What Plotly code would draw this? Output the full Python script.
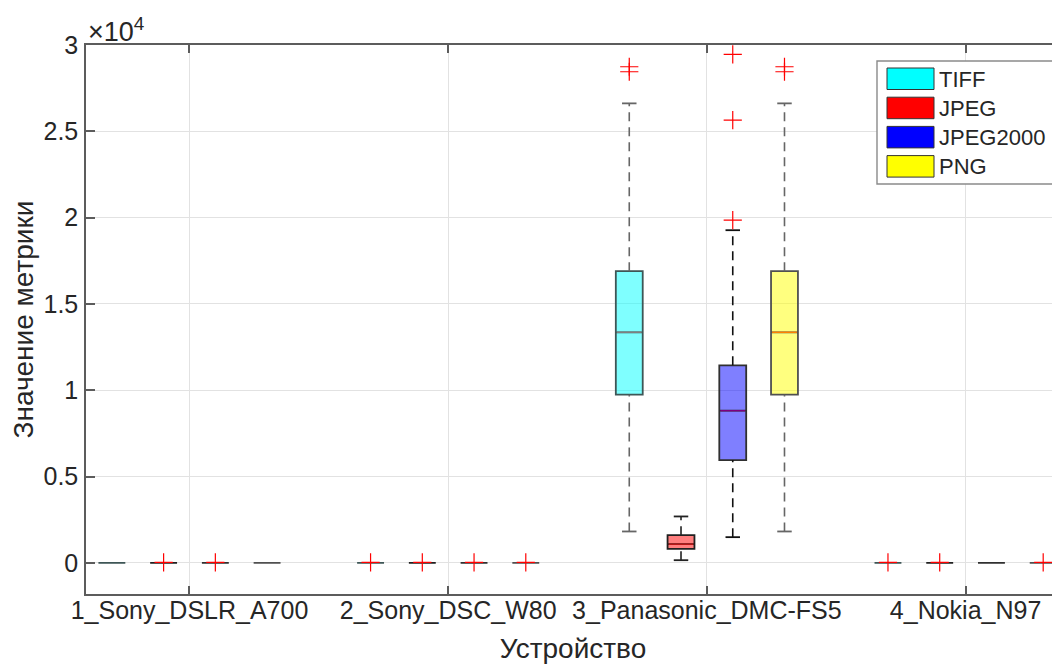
import plotly.graph_objects as go

# ---------------- data ----------------
devices = ["1_Sony_DSLR_A700", "2_Sony_DSC_W80", "3_Panasonic_DMC-FS5", "4_Nokia_N97"]
formats = ["TIFF", "JPEG", "JPEG2000", "PNG"]

# per format: one entry per device -> [lower whisker, q1, median, q3, upper whisker]
tiff_stats = [[0, 0, 0, 0, 0], [0, 0, 0, 0, 0], [1815, 9742, 13355, 16893, 26618], [0, 0, 0, 0, 0]]
jpeg_stats = [[0, 0, 0, 0, 0], [0, 0, 0, 0, 0], [151, 812, 1079, 1600, 2685], [0, 0, 0, 0, 0]]
jp2k_stats = [[0, 0, 0, 0, 0], [0, 0, 0, 0, 0], [1485, 5950, 8814, 11442, 19270], [0, 0, 0, 0, 0]]
png_stats = [[0, 0, 0, 0, 0], [0, 0, 0, 0, 0], [1815, 9742, 13355, 16893, 26618], [0, 0, 0, 0, 0]]

tiff_out = [[], [20], [28450, 28740], [20]]
jpeg_out = [[20], [20], [], [20]]
jp2k_out = [[20], [20], [19850, 25649, 29459], []]
png_out = [[], [20], [28450, 28740], [20]]

y_tickvals = [0, 5000, 10000, 15000, 20000, 25000, 30000]
y_ticktext = ["0", "0.5", "1", "1.5", "2", "2.5", "3"]

# ---------------- styling ----------------
FONT = "Liberation Sans, Arial, Helvetica, sans-serif"
TXT = "#262626"
OFF = 8                       # page body margin
W, H = 1060 - OFF, 664 - OFF
ML, MT, MB = 86 - OFF, 45 - OFF, 70
PW = W - ML
PH = H - MT - MB
TICK_FS, LAB_FS, LEG_FS = 25, 28, 22

fill_rgb = {"TIFF": (0, 255, 255), "JPEG": (255, 0, 0), "JPEG2000": (0, 0, 255), "PNG": (255, 255, 0)}
edge_col = {"TIFF": "#3e5656", "JPEG": "#202020", "JPEG2000": "#303030", "PNG": "#505050"}
whisk_col = {"TIFF": "#666666", "JPEG": "#222222", "JPEG2000": "#111111", "PNG": "#666666"}
offsets = [-0.3, -0.1, 0.1, 0.3]
BOXW = 0.104
CAPW = 0.056

stats_all = {"TIFF": tiff_stats, "JPEG": jpeg_stats, "JPEG2000": jp2k_stats, "PNG": png_stats}
out_all = {"TIFF": tiff_out, "JPEG": jpeg_out, "JPEG2000": jp2k_out, "PNG": png_out}


def blend(rgb, a=0.5, under=(255, 0, 0)):
    return "rgb(%d,%d,%d)" % tuple(round(a * c + (1 - a) * u) for c, u in zip(rgb, under))


fig = go.Figure()

for fi, fmt in enumerate(formats):
    r, g, b = fill_rgb[fmt]
    xs = [di + 1 + offsets[fi] for di in range(len(devices))]
    st = stats_all[fmt]
    # whiskers (dashed) and caps
    wx, wy, cx, cy = [], [], [], []
    for x, s in zip(xs, st):
        lw, q1, med, q3, uw = s
        if uw > q3:
            wx += [x, x, None]; wy += [q3, uw, None]
        if lw < q1:
            wx += [x, x, None]; wy += [lw, q1, None]
        if uw > q3 or lw < q1:
            cx += [x - CAPW / 2, x + CAPW / 2, None, x - CAPW / 2, x + CAPW / 2, None]
            cy += [uw, uw, None, lw, lw, None]
    fig.add_trace(go.Scatter(x=wx, y=wy, mode="lines", showlegend=False, hoverinfo="skip",
                             line=dict(color=whisk_col[fmt], width=1.6, dash="9px,6px")))
    fig.add_trace(go.Scatter(x=cx, y=cy, mode="lines", showlegend=False, hoverinfo="skip",
                             line=dict(color=whisk_col[fmt], width=1.8)))
    # boxes
    fig.add_trace(go.Box(
        x=xs, q1=[s[1] for s in st], median=[s[2] for s in st], q3=[s[3] for s in st],
        lowerfence=[s[1] for s in st], upperfence=[s[3] for s in st],
        width=BOXW, fillcolor="rgba(%d,%d,%d,0.5)" % (r, g, b),
        line=dict(color=edge_col[fmt], width=1.8), name=fmt, showlegend=False,
        hoverinfo="skip"))
    # median lines (red median seen through the translucent patch)
    mx, my = [], []
    for x, s in zip(xs, st):
        if s[3] > s[1]:
            mx += [x - BOXW / 2 + 0.004, x + BOXW / 2 - 0.004, None]
            my += [s[2], s[2], None]
    fig.add_trace(go.Scatter(x=mx, y=my, mode="lines", showlegend=False, hoverinfo="skip",
                             line=dict(color=blend((r, g, b)) if fmt != "JPEG" else "#d01818", width=1.4)))
    # outliers
    ox, oy = [], []
    for x, outs in zip(xs, out_all[fmt]):
        for v in outs:
            ox.append(x); oy.append(v)
    fig.add_trace(go.Scatter(x=ox, y=oy, mode="markers", showlegend=False, hoverinfo="skip",
                             marker=dict(symbol="cross-thin", size=13,
                                         line=dict(color="#ff0000", width=1.2))))


def px2paper(px, py):
    """screen pixel -> paper coords"""
    return (px - OFF - ML) / PW, 1 - (py - OFF - MT) / PH


# manual MATLAB-style legend
shapes = []
annotations = []
x0, y0 = px2paper(877, 61)
x1, y1 = px2paper(1054, 184)
shapes.append(dict(type="rect", xref="paper", yref="paper", x0=x0, y0=y1, x1=x1, y1=y0,
                   line=dict(color="#8a8a8a", width=1.4), fillcolor="white", layer="above"))
row_top = 68
for i, fmt in enumerate(formats):
    top = row_top + i * 29.2
    sx0, sy0 = px2paper(887, top)
    sx1, sy1 = px2paper(934, top + 21.5)
    shapes.append(dict(type="rect", xref="paper", yref="paper", x0=sx0, y0=sy1, x1=sx1, y1=sy0,
                       line=dict(color="#333333", width=1),
                       fillcolor="rgb(%d,%d,%d)" % fill_rgb[fmt], layer="above"))
    tx, ty = px2paper(937, top + 11)
    annotations.append(dict(xref="paper", yref="paper", x=tx, y=ty, text=fmt, showarrow=False,
                            xanchor="left", yanchor="middle",
                            font=dict(family=FONT, size=LEG_FS, color=TXT)))

ex, ey = px2paper(86, 30)
annotations.append(dict(xref="paper", yref="paper", x=ex, y=ey, text="×10<sup>4</sup>",
                        showarrow=False, xanchor="left", yanchor="middle",
                        font=dict(family=FONT, size=27, color=TXT)))

fig.update_layout(
    width=W, height=H,
    margin=dict(l=ML, r=0, t=MT, b=MB, autoexpand=False),
    paper_bgcolor="white", plot_bgcolor="white",
    font=dict(family=FONT, size=TICK_FS, color=TXT),
    showlegend=False,
    shapes=shapes, annotations=annotations,
    xaxis=dict(range=[0.6, 0.6 + PW / 258.7], tickvals=[1, 2, 3, 4], ticktext=devices,
               automargin=False,
               showgrid=True, gridcolor="#e2e2e2", gridwidth=1.2, zeroline=False,
               showline=True, linecolor="#5c5c5c", linewidth=1.5, mirror="ticks",
               ticks="inside", ticklen=8, tickwidth=1.5, tickcolor="#5c5c5c",
               ticklabelstandoff=-7,
               tickfont=dict(family=FONT, size=TICK_FS, color=TXT),
               title=dict(text="Устройство", font=dict(family=FONT, size=LAB_FS, color=TXT), standoff=19)),
    yaxis=dict(range=[-1808, 30000], tickvals=y_tickvals, ticktext=y_ticktext,
               automargin=False,
               showgrid=True, gridcolor="#e2e2e2", gridwidth=1.2, zeroline=False,
               showline=True, linecolor="#5c5c5c", linewidth=1.5, mirror=False,
               ticks="inside", ticklen=9, tickwidth=1.5, tickcolor="#5c5c5c",
               ticklabelstandoff=1,
               tickfont=dict(family=FONT, size=TICK_FS, color=TXT),
               title=dict(text="Значение метрики", font=dict(family=FONT, size=LAB_FS, color=TXT), standoff=8)),
)

fig.write_html("out.html")
